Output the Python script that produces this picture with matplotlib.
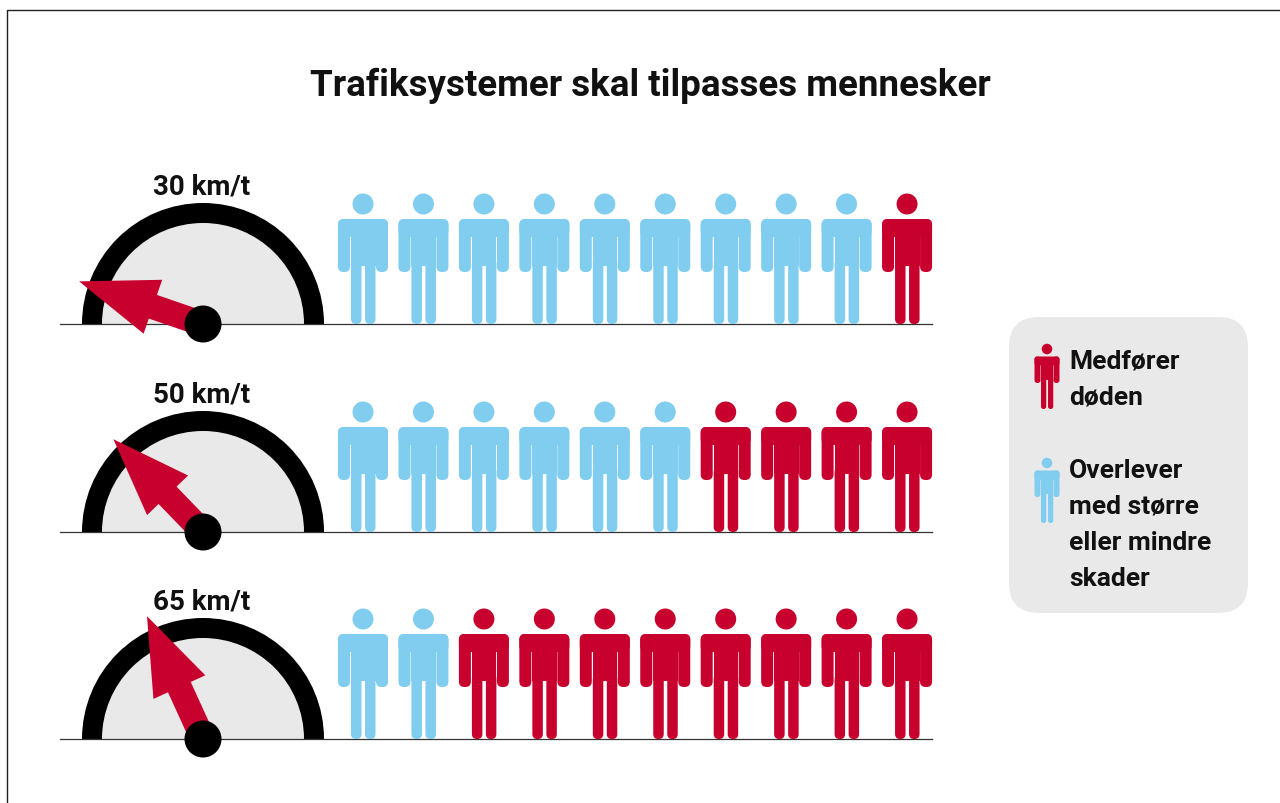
import matplotlib
matplotlib.use("Agg")
import numpy as np
import matplotlib.pyplot as plt
from matplotlib.patches import Circle, FancyBboxPatch, Polygon, Wedge, Rectangle

title = "Trafiksystemer skal tilpasses mennesker"
speed_labels = ["30 km/t", "50 km/t", "65 km/t"]
deaths = [1, 4, 8]
total_people = 10
needle_angles = [161, 134, 114.5]
needle_lengths = [131, 129, 135]
legend_dead = ["Medfører", "døden"]
legend_alive = ["Overlever", "med større", "eller mindre", "skader"]

RED = "#c8002d"
BLUE = "#80cdef"
GREY = "#e9e9ea"
FONT = "Roboto"

fig = plt.figure(figsize=(12.8, 8.04), dpi=100)
ax = fig.add_axes([0, 0, 1, 1])
ax.set_xlim(0, 1280)
ax.set_ylim(804, 0)
ax.axis("off")


def rrect(x0, y0, w, h, r, color, z=3):
    ax.add_patch(FancyBboxPatch((x0 + r, y0 + r), w - 2 * r, h - 2 * r,
                                boxstyle=f"round,pad={r},rounding_size={r}",
                                fc=color, ec="none", zorder=z))


def person(cx, feet, color, s=1.0):
    ax.add_patch(Circle((cx, feet - 120 * s), 10.5 * s, fc=color, ec="none", zorder=3))
    rrect(cx - 25 * s, feet - 105 * s, 50 * s, 18 * s, 6 * s, color)
    rrect(cx - 25 * s, feet - 105 * s, 12 * s, 53 * s, 5.5 * s, color)
    rrect(cx + 13 * s, feet - 105 * s, 12 * s, 53 * s, 5.5 * s, color)
    ax.add_patch(Rectangle((cx - 12 * s, feet - 105 * s), 24.5 * s, 47 * s, fc=color, ec="none", zorder=3))
    rrect(cx - 12 * s, feet - 65 * s, 10.5 * s, 65 * s, 5 * s, color)
    rrect(cx + 2 * s, feet - 65 * s, 10.5 * s, 65 * s, 5 * s, color)


def gauge(cx, base, angle, length, label):
    ax.add_patch(Wedge((cx, base), 101, 180, 360, fc=GREY, ec="none", zorder=1))
    ax.add_patch(Wedge((cx, base), 121, 180, 360, width=20, fc="black", ec="none", zorder=2))
    a = np.deg2rad(angle)
    d = np.array([np.cos(a), -np.sin(a)])
    n = np.array([-d[1], d[0]])
    hub = np.array([cx, base])
    tip = hub + d * length
    neck = tip - d * 78
    pts = [hub + n * 12.5, neck + n * 12.5, neck + n * 28.5, tip,
           neck - n * 28.5, neck - n * 12.5, hub - n * 12.5]
    ax.add_patch(Polygon(pts, closed=True, fc=RED, ec="none", zorder=5))
    ax.add_patch(Circle((cx, base), 18.5, fc="black", ec="none", zorder=6))
    ax.text(cx - 1, base - 128 if False else base - 130, label, ha="center", va="baseline",
            fontsize=20, fontweight="bold", family=FONT, color="#111111", zorder=7)


# outer frame
ax.plot([1280, 6.5, 6.5], [10.5, 10.5, 804], color="#222222", lw=1.0, zorder=0)

ax.text(650, 96, title, ha="center", va="baseline", fontsize=26.5,
        fontweight="bold", family=FONT, color="#111111")

baselines = [325, 533, 740]
for base, dead, ang, ln, lab in zip(baselines, deaths, needle_angles, needle_lengths, speed_labels):
    ax.plot([60, 932], [base, base], color="#333333", lw=0.9, zorder=2.5)
    gauge(203, base, ang, ln, lab)
    for i in range(total_people):
        cx = 363 + 60.45 * i
        person(cx, base, RED if i >= total_people - dead else BLUE)

# legend box
rrect(1009, 318, 239, 296, 30, GREY, z=1)
person(1047, 410, RED, 0.5)
person(1047, 524, BLUE, 0.5)
for y, line in zip([369, 405], legend_dead):
    ax.text(1069, y, line, fontsize=19, fontweight="bold", family=FONT, color="#111111", va="baseline")
for y, line in zip([478, 514, 550, 586], legend_alive):
    ax.text(1069, y, line, fontsize=19, fontweight="bold", family=FONT, color="#111111", va="baseline")

fig.savefig("out.png", dpi=100, facecolor="white")
